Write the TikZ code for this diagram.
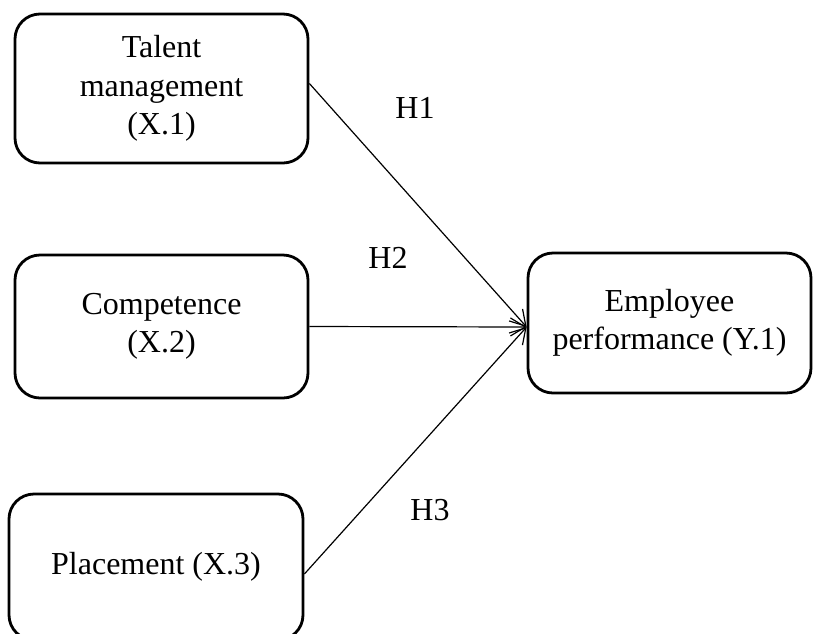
\documentclass[tikz,border=0pt]{standalone}
\usepackage{fontspec}
\setmainfont{Liberation Serif}
\usetikzlibrary{arrows.meta}
\begin{document}
\begin{tikzpicture}[x=1pt,y=-1pt,
  box/.style={draw,line width=2.8pt,rounded corners=25pt,align=center,inner sep=0pt,
    font=\fontsize{32}{38.5}\selectfont},
  conn/.style={line width=1.2pt,-{Straight Barb[length=15pt,width=18pt,line width=1.2pt]}},
  lbl/.style={font=\fontsize{32}{36}\selectfont}]
\useasboundingbox (0,0) rectangle (813,633);
\node[box,minimum width=293pt,minimum height=149pt] (b1) at (161.5,88.5) {Talent\\management\\(X.1)};
\node[box,minimum width=293pt,minimum height=143pt] (b2) at (161.5,326.5) {Competence\\(X.2)};
\node[box,minimum width=294pt,minimum height=146pt] (b3) at (156,567) {Placement (X.3)};
\node[box,minimum width=283pt,minimum height=140pt] (b4) at (669.5,323) {Employee\\performance (Y.1)};
\coordinate (t) at ([yshift=-4pt]b4.west);
\draw[conn] ([yshift=5pt]b1.east) -- (t);
\draw[conn] (b2.east) -- (t);
\draw[conn] ([yshift=-7pt]b3.east) -- (t);
\node[lbl] (h1) at (415,108) {H1};
\node[lbl] (h2) at (388,258) {H2};
\node[lbl] (h3) at (430,510) {H3};
\end{tikzpicture}
\end{document}
